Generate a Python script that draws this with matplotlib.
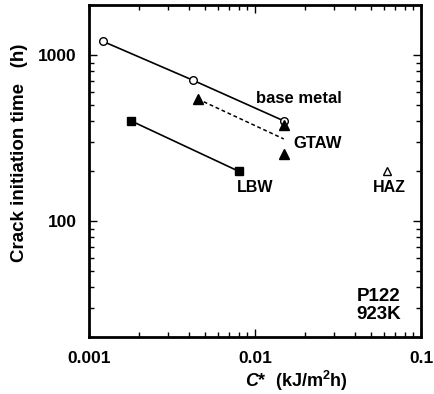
import matplotlib
matplotlib.use("Agg")
import matplotlib.pyplot as plt
from matplotlib.ticker import LogLocator, NullFormatter, FixedLocator, FixedFormatter

plt.rcParams['font.family'] = ['Liberation Sans', 'DejaVu Sans']
plt.rcParams['font.weight'] = 'bold'
plt.rcParams['mathtext.fontset'] = 'custom'
plt.rcParams['mathtext.it'] = 'Liberation Sans:italic:bold'
plt.rcParams['mathtext.bf'] = 'Liberation Sans:bold'
plt.rcParams['mathtext.rm'] = 'Liberation Sans:bold'

base_x = [0.00121, 0.00422, 0.0149]
base_y = [1209, 705, 401]
gtaw_x = [0.00452, 0.0149, 0.0150]
gtaw_y = [543, 379, 252]
gtaw_fit_x = [0.00452, 0.0149]
gtaw_fit_y = [543, 312]
lbw_x = [0.0018, 0.0080]
lbw_y = [400, 199]
haz_x = [0.062]
haz_y = [200]

xticks = [0.001, 0.01, 0.1]
xticklabels = ['0.001', '0.01', '0.1']
yticks = [100, 1000]
yticklabels = ['100', '1000']

fig = plt.figure(figsize=(4.34, 3.94), dpi=100)
ax = fig.add_axes([89/434, 1-337/394, (421-89)/434, (337-5)/394])
ax.set_xscale('log')
ax.set_yscale('log')
ax.set_xlim(0.001, 0.1)
ax.set_ylim(20, 2000)

ax.plot(base_x, base_y, '-', color='black', lw=1.2, marker='o', mfc='white', mec='black', ms=5.5, mew=1.0)
ax.plot(gtaw_fit_x, gtaw_fit_y, '--', color='black', lw=1.1, dashes=(2.5, 1.8))
ax.plot(gtaw_x, gtaw_y, linestyle='none', marker='^', color='black', ms=6.5)
ax.plot(lbw_x, lbw_y, '-', color='black', lw=1.2, marker='s', ms=5.2)
ax.plot(haz_x, haz_y, linestyle='none', marker='^', mfc='white', mec='black', ms=5.5, mew=1.0)

ax.text(0.0184, 550, 'base metal', ha='center', va='center', fontsize=12, fontweight='bold')
ax.text(0.0238, 293, 'GTAW', ha='center', va='center', fontsize=12, fontweight='bold')
ax.text(0.0100, 158, 'LBW', ha='center', va='center', fontsize=11.5, fontweight='bold')
ax.text(0.0646, 158, 'HAZ', ha='center', va='center', fontsize=11.5, fontweight='bold')
ax.text(0.0555, 35.1, 'P122', ha='center', va='center', fontsize=13.5, fontweight='bold')
ax.text(0.0555, 27.3, '923K', ha='center', va='center', fontsize=13.5, fontweight='bold')

ax.xaxis.set_major_locator(FixedLocator(xticks))
ax.xaxis.set_major_formatter(FixedFormatter(xticklabels))
ax.yaxis.set_major_locator(FixedLocator(yticks))
ax.yaxis.set_major_formatter(FixedFormatter(yticklabels))
ax.xaxis.set_minor_locator(LogLocator(base=10, subs=range(2, 10)))
ax.yaxis.set_minor_locator(LogLocator(base=10, subs=range(2, 10)))
ax.xaxis.set_minor_formatter(NullFormatter())
ax.yaxis.set_minor_formatter(NullFormatter())
ax.tick_params(which='both', direction='in', top=True, right=True, width=1.0)
ax.tick_params(which='major', length=6, labelsize=12.5)
ax.tick_params(axis='x', which='major', pad=10)
ax.tick_params(axis='y', which='major', pad=9)
ax.tick_params(which='minor', length=3.5)
for lab in ax.get_xticklabels() + ax.get_yticklabels():
    lab.set_fontweight('bold')
for s in ax.spines.values():
    s.set_linewidth(2.0)

fig.text(296.5/434, 1-381/394, r'$\mathit{C}$*  (kJ/m$^{\mathbf{2}}$h)', ha='center', va='center',
         fontsize=13, fontweight='bold')
fig.text(20/434, 1-152.5/394, 'Crack initiation time   (h)', ha='center', va='center',
         rotation=90, fontsize=13.5, fontweight='bold')

fig.savefig('out.png', dpi=100)
